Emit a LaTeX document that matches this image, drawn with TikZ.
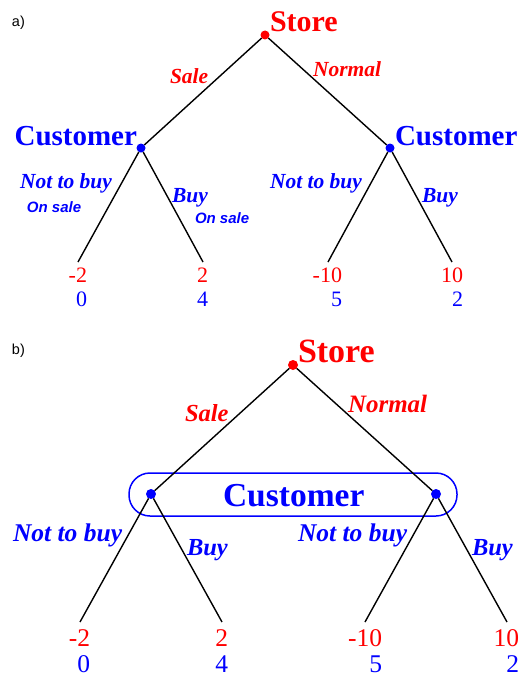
\documentclass[tikz,border=0pt]{standalone}
\usepackage{fontspec}
\setmainfont{Liberation Serif}
\newfontfamily\sansf{Liberation Sans}
\definecolor{gred}{RGB}{255,0,0}
\definecolor{gblue}{RGB}{0,0,255}
\newcommand\myfs[1]{\fontsize{#1}{#1}\selectfont}
\tikzset{
  txt/.style={inner sep=0pt, outer sep=0pt},
  rdot/.style={circle, fill=gred, inner sep=0pt, outer sep=0pt, minimum size=#1},
  bdot/.style={circle, fill=gblue, inner sep=0pt, outer sep=0pt, minimum size=#1},
  edge/.style={line width=1.4pt, black},
  player/.style={txt, font=\bfseries\myfs{#1}},
  move/.style={txt, anchor=base west, font=\bfseries\itshape\myfs{#1}},
  pay/.style={txt, anchor=base east, font=\myfs{#1}},
  onsale/.style={txt, anchor=base west, text=gblue, font=\sansf\bfseries\itshape\myfs{15}},
  tag/.style={txt, anchor=base west, font=\sansf\myfs{14.5}}
}
\begin{document}
\begin{tikzpicture}[x=1pt,y=-1pt]
\useasboundingbox (0,0) rectangle (520,677);
% ---------------- a) ----------------
\node[tag] (ta) at (12,27) {a)};
\node[rdot=9pt] (s1) at (265,35) {};
\node[bdot=9pt] (c1) at (141,148) {};
\node[bdot=9pt] (c2) at (390,148) {};
\coordinate (l1) at (78,262);
\coordinate (l2) at (203,262);
\coordinate (l3) at (328,262);
\coordinate (l4) at (452,262);
\draw[edge] (s1) -- (c1);
\draw[edge] (s1) -- (c2);
\draw[edge] (c1) -- (l1);
\draw[edge] (c1) -- (l2);
\draw[edge] (c2) -- (l3);
\draw[edge] (c2) -- (l4);
\node[player=30, anchor=base west, text=gred] (st1) at (270,32) {Store};
\node[player=29, anchor=base east, text=gblue] (cu1) at (137,145) {Customer};
\node[player=29, anchor=base west, text=gblue] (cu2) at (395,145) {Customer};
\node[move=21.5, text=gred] (sa1) at (170,83) {Sale};
\node[move=21.5, text=gred] (no1) at (313,76) {Normal};
\node[move=21.5, text=gblue] (nb1) at (20,188) {Not to buy};
\node[move=21.5, text=gblue] (bu1) at (172,202) {Buy};
\node[move=21.5, text=gblue] (nb2) at (270,188) {Not to buy};
\node[move=21.5, text=gblue] (bu2) at (422,202) {Buy};
\node[onsale] (os1) at (27,212) {On sale};
\node[onsale] (os2) at (195,223) {On sale};
\node[pay=22, text=gred] (p1a) at (87,282) {-2};
\node[pay=22, text=gblue] (p1b) at (87,306) {0};
\node[pay=22, text=gred] (p2a) at (208,282) {2};
\node[pay=22, text=gblue] (p2b) at (208,306) {4};
\node[pay=22, text=gred] (p3a) at (342,282) {-10};
\node[pay=22, text=gblue] (p3b) at (342,306) {5};
\node[pay=22, text=gred] (p4a) at (463,282) {10};
\node[pay=22, text=gblue] (p4b) at (463,306) {2};
% ---------------- b) ----------------
\node[tag] (tb) at (12,354) {b)};
\node[draw=gblue, line width=1.5pt, rounded corners=21pt, minimum width=328pt,
      minimum height=43pt, inner sep=0pt] (info) at (293,494.5) {};
\node[rdot=10pt] (s2) at (293,365) {};
\node[bdot=10pt] (c3) at (151,494) {};
\node[bdot=10pt] (c4) at (436,494) {};
\coordinate (l5) at (80,622);
\coordinate (l6) at (222,622);
\coordinate (l7) at (365,622);
\coordinate (l8) at (507,622);
\draw[edge] (s2) -- (c3);
\draw[edge] (s2) -- (c4);
\draw[edge] (c3) -- (l5);
\draw[edge] (c3) -- (l6);
\draw[edge] (c4) -- (l7);
\draw[edge] (c4) -- (l8);
\node[player=34, anchor=base west, text=gred] (st2) at (298,362) {Store};
\node[player=33.5, anchor=base west, text=gblue] (cu3) at (223,506) {Customer};
\node[move=24.5, text=gred] (sa2) at (185,421) {Sale};
\node[move=25, text=gred] (no2) at (348,412) {Normal};
\node[move=25.5, text=gblue] (nb3) at (13,541) {Not to buy};
\node[move=24.5, text=gblue] (bu3) at (187,555) {Buy};
\node[move=25.5, text=gblue] (nb4) at (298,541) {Not to buy};
\node[move=24.5, text=gblue] (bu4) at (472,555) {Buy};
\node[pay=25.5, text=gred] (p5a) at (90,646) {-2};
\node[pay=25.5, text=gblue] (p5b) at (90,672) {0};
\node[pay=25.5, text=gred] (p6a) at (228,646) {2};
\node[pay=25.5, text=gblue] (p6b) at (228,672) {4};
\node[pay=25.5, text=gred] (p7a) at (382,646) {-10};
\node[pay=25.5, text=gblue] (p7b) at (382,672) {5};
\node[pay=25.5, text=gred] (p8a) at (519,646) {10};
\node[pay=25.5, text=gblue] (p8b) at (519,672) {2};
\end{tikzpicture}
\end{document}
